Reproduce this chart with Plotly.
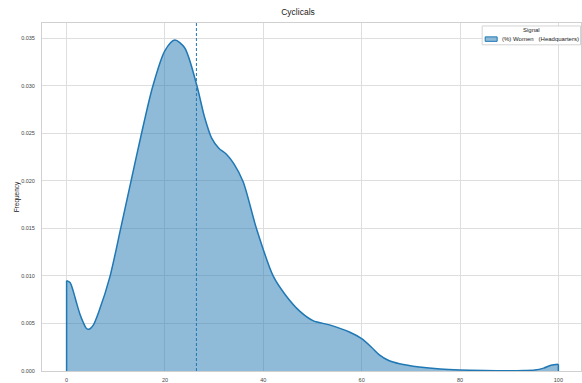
import plotly.graph_objects as go

# Density curve (KDE of % women, cut to 0..100)
x_vals = [0, 0.7, 1.35, 2.0, 2.7, 3.4, 4.0, 4.6, 5.4, 6.6, 8.8, 11.0, 13.2, 15.2,
          17.5, 20, 22, 24, 26.5, 28, 29.5, 31, 32.5, 34, 35.9, 38.6, 42.0, 44.5,
          47.4, 50.1, 53.8, 57.5, 60.0, 62, 63.6, 65.5, 67.7, 71.7, 76, 80, 85, 90,
          93, 95.2, 97, 98.5, 100]
density = [0.0095, 0.0093, 0.0084, 0.0072, 0.0060, 0.0051, 0.0045, 0.0044, 0.0048,
           0.0063, 0.0099, 0.0150, 0.0202, 0.0249, 0.0299, 0.0337, 0.0348, 0.0340,
           0.0300, 0.0268, 0.0245, 0.0234, 0.0228, 0.0218, 0.0199, 0.0150, 0.0100,
           0.0080, 0.0063, 0.0053, 0.0048, 0.0041, 0.0034, 0.0025, 0.0017, 0.0011,
           0.00076, 0.00042, 0.0002, 0.0001, 0.00005, 0.00003, 0.00005, 0.0001,
           0.0003, 0.0006, 0.0007]
mean_value = 26.4
series_name = "(%) Women\u00a0\u00a0\u00a0(Headquarters)"
legend_title = "Signal"
x_ticks = [0, 20, 40, 60, 80, 100]
y_ticks = [0.000, 0.005, 0.010, 0.015, 0.020, 0.025, 0.030, 0.035]

blue = "#1f77b4"
fill = "rgba(31,119,180,0.5)"
grid = "#dedede"
W, H = 582, 383
ML, MR, MT, MB = 42, 0, 23, 9
font_family = "Liberation Sans, Arial, sans-serif"

fig = go.Figure()
fig.add_trace(go.Scatter(
    x=x_vals, y=density, mode="lines", fill="tozeroy",
    line=dict(color=blue, width=1.5, shape="spline", smoothing=0.8),
    fillcolor=fill, name=series_name, showlegend=False,
))
fig.add_trace(go.Scatter(
    x=[x_vals[0], x_vals[0], None, x_vals[-1], x_vals[-1]],
    y=[0, density[0], None, 0, density[-1]],
    mode="lines", line=dict(color=blue, width=1.5), showlegend=False, hoverinfo="skip",
))
fig.add_vline(x=mean_value, line=dict(color=blue, width=1, dash="3px,2px"))

# custom legend box (matplotlib-style); pixel -> paper (plot-area) coordinates
PW, PH = W - ML - MR, H - MT - MB

def px(x):
    return (x - ML) / PW

def py(y):
    return (H - MB - y) / PH

fig.add_shape(type="rect", xref="paper", yref="paper",
              x0=px(483), x1=px(581.5), y0=py(45), y1=py(26),
              line=dict(color="#d4d4d4", width=1), fillcolor="rgba(255,255,255,0.85)",
              layer="above")
fig.add_shape(type="rect", xref="paper", yref="paper",
              x0=px(486), x1=px(498), y0=py(41.5), y1=py(37),
              line=dict(color=blue, width=1), fillcolor=fill, layer="above")
fig.add_annotation(xref="paper", yref="paper", x=px(532), y=py(30.5), text=legend_title,
                   showarrow=False, xanchor="center", yanchor="middle",
                   font=dict(size=6, color="#222222"))
fig.add_annotation(xref="paper", yref="paper", x=px(501), y=py(39.3), text=series_name,
                   showarrow=False, xanchor="left", yanchor="middle",
                   font=dict(size=6, color="#222222"))

fig.update_layout(
    width=W, height=H,
    margin=dict(l=ML, r=MR, t=MT, b=MB),
    paper_bgcolor="white", plot_bgcolor="white",
    font=dict(family=font_family, size=6, color="#333333"),
    title=dict(text="Cyclicals", x=298 / W, xanchor="center", y=1 - 12 / H,
               yanchor="middle", font=dict(size=8.5, color="#222222")),
    showlegend=False,
    xaxis=dict(
        range=[-5, 104.6], tickvals=x_ticks, ticktext=[str(t) for t in x_ticks],
        showgrid=True, gridcolor=grid, gridwidth=1, zeroline=False,
        showline=True, linecolor="#d0d0d0", linewidth=1, mirror=True,
        ticks="", ticklabelstandoff=3, tickfont=dict(size=5.5, color="#444444"),
    ),
    yaxis=dict(
        range=[0, 0.0366], tickvals=y_ticks, ticktext=[f"{t:.3f}" for t in y_ticks],
        showgrid=True, gridcolor=grid, gridwidth=1, zeroline=False,
        showline=True, linecolor="#d0d0d0", linewidth=1, mirror=True,
        ticks="", ticklabelstandoff=5, tickfont=dict(size=5.5, color="#444444"),
        title=dict(text="Frequency", font=dict(size=6.5, color="#222222"), standoff=0),
    ),
)

fig.write_html("out.html")
